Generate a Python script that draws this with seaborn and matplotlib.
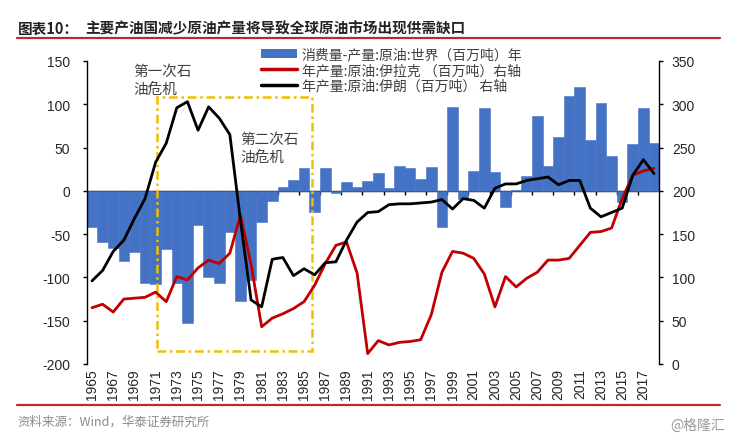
import matplotlib
matplotlib.use("Agg")
import matplotlib.pyplot as plt
import seaborn as sns
import numpy as np
from matplotlib.patches import Rectangle, Patch
from matplotlib.lines import Line2D

# data
years = list(range(1965, 2019))

# consumption - production, world crude oil (Mt), left axis
gap = [-42, -59, -66, -81, -71, -106, -108, -67, -106, -153,
       -39, -100, -106, -47, -127, -103, -36, -12, 5, 12,
       26, -25, 26, -2, 10, 4, 11, 21, 3, 29,
       26, 14, 27, -42, 97, -9, 23, 96, 22, -19,
       0.5, 17, 86, 29, 62, 109, 120, 59, 101, 40,
       -13, 54, 96, 55]

# Iraq crude production (Mt), right axis
iraq = [65, 69, 60, 75, 76, 77, 83, 72, 101, 97,
        111, 120, 116, 128, 172, 115, 43, 53, 58, 64,
        72, 91, 116, 137, 141, 105, 12, 27, 22, 25,
        26, 28, 57, 106, 130, 128, 122, 104, 66, 101,
        89, 99, 106, 120, 120, 122, 137, 152, 153, 157,
        191, 218, 223, 226]

# Iran crude production (Mt), right axis
iran = [96, 108, 130, 143, 168, 191, 233, 255, 296, 303,
        270, 297, 284, 265, 166, 74, 66, 121, 123, 102,
        110, 103, 117, 118, 143, 164, 175, 176, 184, 185,
        185, 186, 187, 190, 179, 191, 189, 180, 203, 208,
        208, 212, 214, 216, 207, 212, 212, 180, 170, 175,
        180, 218, 236, 220]

label_years = years[::2]
left_ticks = list(range(-200, 151, 50))
right_ticks = list(range(0, 351, 50))

legend_labels = ["消费量-产量:原油:世界（百万吨）年",
                 "年产量:原油:伊拉克 （百万吨）右轴",
                 "年产量:原油:伊朗（百万吨） 右轴"]

BLUE = "#4472C4"
RED = "#C00000"
GOLD = "#F2BE00"

sns.set_theme(style="ticks")
plt.rcParams["font.family"] = ["Liberation Sans", "Noto Sans CJK SC", "DejaVu Sans"]
plt.rcParams["axes.edgecolor"] = "black"
plt.rcParams["axes.linewidth"] = 1.0

fig = plt.figure(figsize=(7.31, 4.39), dpi=100)
ax = fig.add_axes([0.1186, 0.1686, 0.7833, 0.6902])

# bars: world gap (left axis), no gaps between columns
sns.barplot(x=years, y=gap, native_scale=True, width=1.0, color=BLUE,
            saturation=1, linewidth=0.4, edgecolor=BLUE, ax=ax)

ax.set_xlim(1964.5, 2018.5)
ax.set_ylim(-200, 150)
ax.set_yticks(left_ticks)
ax.set_yticklabels([str(v) for v in left_ticks], fontsize=10)
ax.set_xticks(label_years)
ax.set_xticklabels([str(y) for y in label_years], rotation=90, fontsize=10)
ax.tick_params(axis="x", length=0, pad=3)
ax.tick_params(axis="y", length=3, width=1, direction="out", color="black", pad=9)
ax.set_xlabel("")
ax.set_ylabel("")
for side in ["top", "right", "bottom"]:
    ax.spines[side].set_visible(False)

# zero line with tick marks between every two categories
zero_pos = (0 - (-200)) / 350
sec = ax.secondary_xaxis(zero_pos)
sec.set_alignment("bottom")
sec.set_xticks(np.arange(1966.5, 2018, 2))
sec.tick_params(axis="x", length=3, width=1, direction="out", color="black",
                labelbottom=False, labeltop=False)
sec.spines["bottom"].set_color("black")
sec.spines["bottom"].set_linewidth(1.0)

# oil crisis box
crisis_box = Rectangle((1971.1, -184.5), 1985.75 - 1971.1, 108 + 184.5,
                       fill=False, edgecolor=GOLD, linewidth=1.8,
                       linestyle=(0, (3.5, 1.5, 1, 1.5)), zorder=5)
ax.add_patch(crisis_box)
ax.text(1968.9, 147, "第一次石\n油危机", fontsize=10.5, color="#404040",
        va="top", ha="left", linespacing=1.35,
        family=["Noto Sans CJK SC", "DejaVu Sans"])
ax.text(1979.0, 68, "第二次石\n油危机", fontsize=10.5, color="#404040",
        va="top", ha="left", linespacing=1.35,
        family=["Noto Sans CJK SC", "DejaVu Sans"])

# lines: Iraq and Iran production (right axis)
ax2 = ax.twinx()
sns.lineplot(x=years, y=iraq, color=RED, linewidth=2.0, ax=ax2)
sns.lineplot(x=years, y=iran, color="black", linewidth=2.0, ax=ax2)
ax2.set_xlim(1964.5, 2018.5)
ax2.set_ylim(0, 350)
ax2.set_yticks(right_ticks)
ax2.set_yticklabels([str(v) for v in right_ticks], fontsize=10)
ax2.tick_params(axis="y", length=3, width=1, direction="out", color="black", pad=6)
ax2.set_xlabel("")
ax2.set_ylabel("")
for side in ["top", "left", "bottom"]:
    ax2.spines[side].set_visible(False)

handles = [Patch(facecolor=BLUE, edgecolor="none"),
           Line2D([], [], color=RED, linewidth=2.5),
           Line2D([], [], color="black", linewidth=2.5)]
leg = ax2.legend(handles, legend_labels, loc="upper left",
                 bbox_to_anchor=(0.305, 1.045), frameon=False,
                 borderaxespad=0, borderpad=0, handlelength=2.6,
                 handleheight=0.6, handletextpad=0.3, labelspacing=0.12,
                 prop={"family": ["Noto Sans CJK SC", "DejaVu Sans"], "size": 10})
for t in leg.get_texts():
    t.set_color("#404040")

# title, rules and source
fig.text(0.025, 0.935, "图表10：", fontsize=10.5, fontweight="bold",
         color="#222222", va="center", ha="left",
         family=["Noto Sans CJK SC", "DejaVu Sans"])
fig.text(0.117, 0.935, "主要产油国减少原油产量将导致全球原油市场出现供需缺口",
         fontsize=10.5, fontweight="bold", color="#222222", va="center",
         ha="left", family=["Noto Sans CJK SC", "DejaVu Sans"])
fig.add_artist(Line2D([0.023, 0.985], [0.911, 0.911], transform=fig.transFigure,
                      color="#C0272D", linewidth=1.6))
fig.add_artist(Line2D([0.023, 0.985], [0.076, 0.076], transform=fig.transFigure,
                      color="#C0272D", linewidth=1.6))
fig.text(0.024, 0.039, "资料来源：Wind，华泰证券研究所", fontsize=9,
         color="#8C8C8C", va="center", ha="left",
         family=["Noto Sans CJK SC", "DejaVu Sans"])
fig.text(0.992, 0.03, "@格隆汇", fontsize=10, color="#9A9A9A",
         va="center", ha="right", family=["Noto Sans CJK SC", "DejaVu Sans"])

fig.savefig("out.png", dpi=100)
